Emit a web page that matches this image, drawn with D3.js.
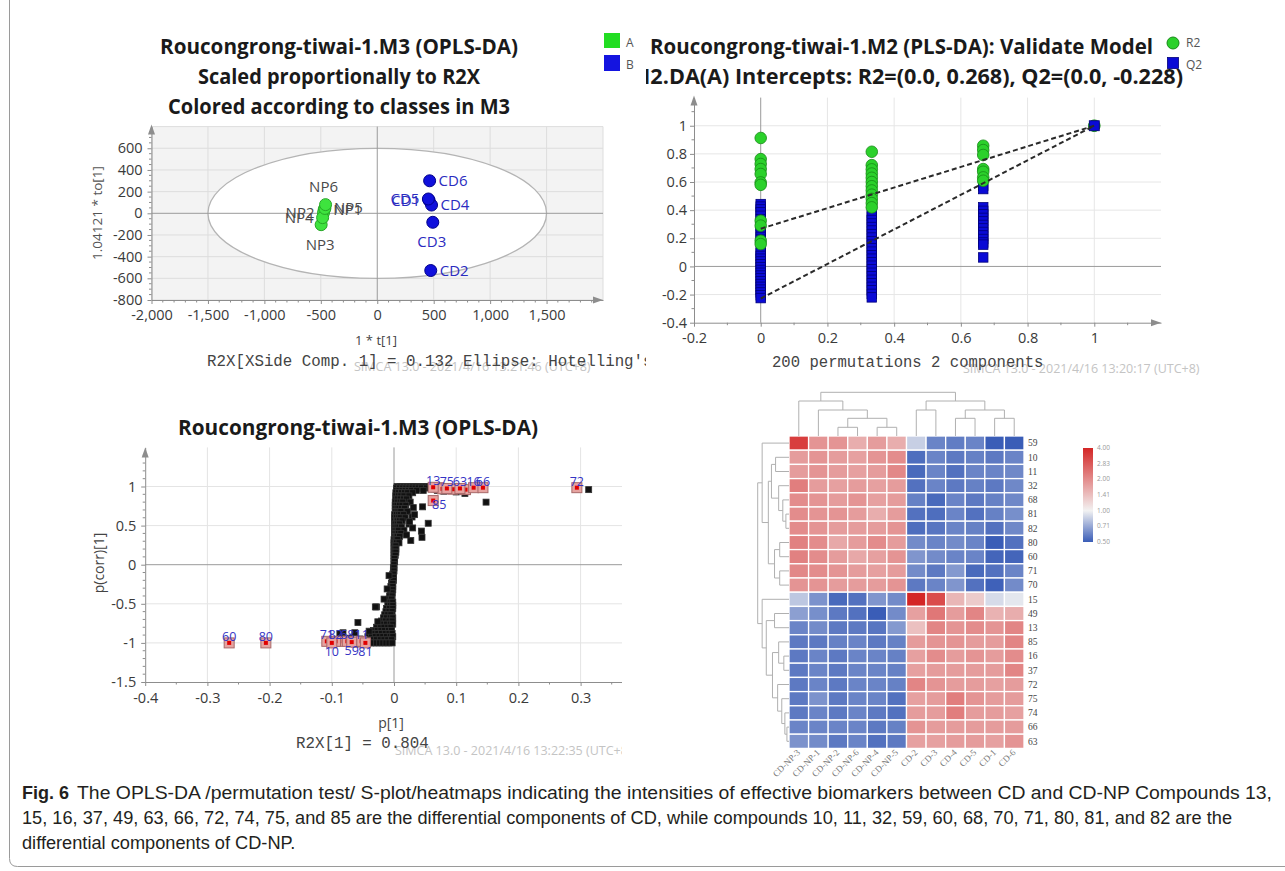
<!DOCTYPE html>
<html><head><meta charset="utf-8">
<script src="https://cdn.jsdelivr.net/npm/d3@7"></script>
<style>body{margin:0;background:#fff;}svg{display:block;}</style>
</head><body>
<svg id="fig" width="1285" height="871"></svg>
<script>
// ---------------- DATA ----------------
// Panel A: OPLS-DA score plot
const scoreNames = ["NP1","NP2","NP3","NP4","NP5","NP6","CD1","CD2","CD3","CD4","CD5","CD6"];
const scoreClass = ["A","A","A","A","A","A","B","B","B","B","B","B"];
const scoreT = [-470,-476,-497,-484,-464,-458, 460,474,492,481,453,464];
const scoreTo = [35,5,-105,-40,45,80, 118,-528,-83,76,132,300];
const scoreLabelSide = ["right","left","bottom","left","right","top","left","right","bottom","right","left","right"];
const ellipseT2 = [1500, 600];
const p1XTicks = [-2000,-1500,-1000,-500,0,500,1000,1500];
const p1YTicks = [-800,-600,-400,-200,0,200,400,600];

// Panel B: permutation test
const permX = [0, 0.333, 0.667];
const r2Perm = [
  [0.913,0.763,0.728,0.692,0.657,0.597,0.58,0.325,0.29,0.183,0.159],
  [0.815,0.72,0.69,0.66,0.63,0.6,0.57,0.54,0.51,0.48,0.45,0.42],
  [0.858,0.827,0.792,0.692,0.673,0.633,0.609]
];
const q2Perm = [
  [0.443,0.425,0.405,0.385,0.36,0.335,0.31,0.285,0.26,0.235,0.21,0.19,0.112,0.095,0.075,0.055,0.035,0.015,-0.005,-0.025,-0.045,-0.065,-0.085,-0.105,-0.125,-0.145,-0.165,-0.185,-0.205,-0.225],
  [0.38,0.355,0.33,0.305,0.28,0.255,0.23,0.205,0.18,0.155,0.13,0.105,0.08,0.055,0.03,0.005,-0.02,-0.045,-0.07,-0.095,-0.12,-0.145,-0.17,-0.195,-0.22],
  [0.574,0.55,0.42,0.395,0.37,0.345,0.32,0.295,0.27,0.245,0.22,0.195,0.17,0.155,0.064]
];
const r2Original = 1.0, q2Original = 1.0;
const r2Intercept = 0.268, q2Intercept = -0.228;
const p2XTicks = [-0.2,0,0.2,0.4,0.6,0.8,1];
const p2YTicks = [-0.4,-0.2,0,0.2,0.4,0.6,0.8,1];

// Panel C: S-plot  [p[1], p(corr)[1]]
const sPlotPoints = [
[0.005,1],[0.01,1],[0.015,1],[0.02,1],[0.025,1],[0.03,1],[0.035,1],[0.04,1],[0.045,1],[0.05,1],[0.055,1],
[0.004,0.98],[0.009,0.98],[0.014,0.98],[0.019,0.98],[0.024,0.98],[0.029,0.98],[0.034,0.98],[0.039,0.98],[0.044,0.98],[0.052,0.98],[0.06,0.98],
[0.004,0.95],[0.008,0.95],[0.013,0.95],[0.018,0.95],[0.023,0.95],[0.028,0.95],[0.036,0.95],[0.047,0.95],
[0.003,0.92],[0.007,0.92],[0.012,0.92],[0.017,0.92],[0.022,0.92],[0.03,0.92],
[0.003,0.88],[0.007,0.88],[0.011,0.88],[0.016,0.88],[0.024,0.88],
[0.003,0.84],[0.006,0.84],[0.01,0.84],[0.015,0.84],[0.02,0.84],
[0.002,0.8],[0.006,0.8],[0.01,0.8],[0.014,0.8],[0.026,0.8],
[0.002,0.76],[0.005,0.76],[0.009,0.76],[0.013,0.76],[0.019,0.76],
[0.002,0.72],[0.005,0.72],[0.008,0.72],[0.012,0.72],[0.017,0.72],
[0.002,0.68],[0.005,0.68],[0.008,0.68],[0.011,0.68],[0.022,0.68],
[0.001,0.64],[0.004,0.64],[0.007,0.64],[0.01,0.64],[0.015,0.64],
[0.001,0.6],[0.004,0.6],[0.007,0.6],[0.01,0.6],[0.018,0.6],
[0.001,0.56],[0.004,0.56],[0.006,0.56],[0.009,0.56],[0.013,0.56],
[0.001,0.52],[0.003,0.52],[0.006,0.52],[0.009,0.52],[0.024,0.52],
[0.001,0.48],[0.003,0.48],[0.005,0.48],[0.008,0.48],[0.012,0.48],
[0.001,0.44],[0.003,0.44],[0.005,0.44],[0.007,0.44],[0.016,0.44],
[0.001,0.4],[0.003,0.4],[0.005,0.4],[0.007,0.4],[0.011,0.4],
[0.001,0.36],[0.002,0.36],[0.004,0.36],[0.006,0.36],[0.009,0.36],
[0,0.32],[0.002,0.32],[0.004,0.32],[0.006,0.32],
[0,0.28],[0.002,0.28],[0.004,0.28],[0.008,0.28],
[0,0.24],[0.002,0.24],[0.003,0.24],
[0,0.2],[0.001,0.2],[0.003,0.2],
[0,0.16],[0.001,0.16],[0.003,0.16],
[0,0.12],[0.001,0.12],[0.002,0.12],
[0,0.08],[0.001,0.08],[0,0.04],[0.001,0.04],[0,0],
[0.031,0.73],[0.046,0.74],[0.029,0.61],[0.033,0.64],[0.055,0.53],[0.044,0.43],[0.045,0.35],[0.027,0.31],
[0.02,0.38],[0.025,0.55],[0.03,0.47],[0.1,0.93],[0.114,0.91],[0.117,0.94],[0.148,0.8],[0.07,0.95],
[0.08,0.94],[0.09,0.96],[0.065,0.97],[0.313,0.96],
[-0.001,-0.04],[0,-0.04],[-0.001,-0.08],[0,-0.08],[-0.002,-0.12],[-0.001,-0.12],
[-0.003,-0.16],[-0.001,-0.16],[-0.003,-0.2],[-0.001,-0.2],[-0.004,-0.24],[-0.002,-0.24],
[-0.005,-0.28],[-0.002,-0.28],[-0.005,-0.32],[-0.002,-0.32],[-0.006,-0.36],[-0.003,-0.36],
[-0.007,-0.4],[-0.003,-0.4],[-0.008,-0.44],[-0.004,-0.44],
[-0.009,-0.48],[-0.005,-0.48],[-0.002,-0.48],[-0.01,-0.52],[-0.006,-0.52],[-0.002,-0.52],
[-0.012,-0.56],[-0.007,-0.56],[-0.002,-0.56],[-0.013,-0.6],[-0.008,-0.6],[-0.003,-0.6],
[-0.015,-0.64],[-0.01,-0.64],[-0.005,-0.64],
[-0.017,-0.68],[-0.012,-0.68],[-0.006,-0.68],[-0.002,-0.68],
[-0.02,-0.72],[-0.014,-0.72],[-0.008,-0.72],[-0.003,-0.72],
[-0.024,-0.76],[-0.018,-0.76],[-0.012,-0.76],[-0.006,-0.76],[-0.002,-0.76],
[-0.028,-0.8],[-0.022,-0.8],[-0.016,-0.8],[-0.01,-0.8],[-0.005,-0.8],
[-0.033,-0.84],[-0.027,-0.84],[-0.021,-0.84],[-0.015,-0.84],[-0.009,-0.84],[-0.004,-0.84],
[-0.038,-0.88],[-0.032,-0.88],[-0.026,-0.88],[-0.02,-0.88],[-0.014,-0.88],[-0.008,-0.88],[-0.003,-0.88],
[-0.042,-0.92],[-0.036,-0.92],[-0.03,-0.92],[-0.024,-0.92],[-0.018,-0.92],[-0.012,-0.92],[-0.006,-0.92],[-0.002,-0.92],
[-0.046,-0.96],[-0.04,-0.96],[-0.034,-0.96],[-0.028,-0.96],[-0.022,-0.96],[-0.016,-0.96],[-0.01,-0.96],[-0.004,-0.96],
[-0.048,-1],[-0.043,-1],[-0.038,-1],[-0.033,-1],[-0.028,-1],[-0.023,-1],[-0.018,-1],[-0.013,-1],[-0.008,-1],[-0.003,-1],
[-0.028,-0.54],[-0.016,-0.44],[-0.011,-0.31],[-0.008,-0.14],[-0.058,-0.74],[-0.026,-0.73],[-0.04,-0.85],
[-0.063,-0.87],[-0.082,-0.87],[-0.03,-0.54],[-0.087,-0.88],[-0.055,-0.95],[-0.07,-0.94]
];
// marked (selected) variables
const markId   = ["70","32","37","74","49","15","60","80","71","82","68","11","10","59","81","13","75","63","16","66","72","85"];
const markP    = [-0.088,-0.06,0.072,0.078,0.095,0.115,-0.265,-0.206,-0.108,-0.094,-0.075,-0.052,-0.1,-0.068,-0.046,0.063,0.085,0.106,0.128,0.143,0.294,0.063];
const markCorr = [-0.98,-0.99,0.985,0.97,0.965,0.96,-1,-1,-0.98,-0.98,-0.98,-0.98,-1,-0.99,-1,0.99,0.975,0.975,0.985,0.985,0.985,0.82];
const markLabelPos = ["","","","","","","above","above","above","above","above","above","below","below","below","above","above","above","above","above","above","belowright"];
const p3XTicks = [-0.4,-0.3,-0.2,-0.1,0,0.1,0.2,0.3];
const p3YTicks = [-1.5,-1,-0.5,0,0.5,1];

// Panel D: heatmap (relative intensity)
const hmCols = ["CD-NP-3","CD-NP-1","CD-NP-2","CD-NP-6","CD-NP-4","CD-NP-5","CD-2","CD-3","CD-4","CD-5","CD-1","CD-6"];
const hmRows = ["59","10","11","32","68","81","82","80","60","71","70","15","49","13","85","16","37","72","75","74","66","63"];
const hmValues = [
 [3.4,1.9,1.9,1.6,1.8,1.6, 0.85,0.6,0.58,0.6,0.5,0.49],
 [1.8,1.9,1.8,1.75,1.9,2.0, 0.54,0.6,0.57,0.59,0.57,0.6],
 [1.8,1.9,1.8,1.75,1.8,2.05, 0.53,0.6,0.55,0.6,0.6,0.61],
 [2.2,1.8,1.75,1.8,1.75,1.8, 0.55,0.6,0.57,0.59,0.57,0.61],
 [2.0,1.9,1.8,1.9,1.75,1.8, 0.59,0.53,0.6,0.57,0.59,0.61],
 [2.0,1.9,1.9,1.8,1.6,1.8, 0.55,0.54,0.6,0.55,0.59,0.63],
 [2.0,1.9,1.8,1.8,1.8,1.9, 0.54,0.56,0.6,0.59,0.55,0.61],
 [2.15,2.0,1.65,1.8,2.0,1.8, 0.62,0.6,0.62,0.6,0.5,0.55],
 [2.15,2.0,1.8,1.65,1.75,1.9, 0.65,0.62,0.6,0.6,0.52,0.52],
 [2.05,2.0,1.9,1.8,1.75,1.8, 0.62,0.57,0.66,0.53,0.55,0.6],
 [1.9,1.9,1.8,1.8,1.8,1.9, 0.57,0.6,0.65,0.55,0.51,0.62],
 [0.82,0.64,0.53,0.55,0.65,0.62, 4.0,3.1,1.5,1.3,0.9,0.95],
 [0.68,0.63,0.57,0.55,0.5,0.62, 1.75,2.3,1.8,2.1,1.55,1.6],
 [0.6,0.62,0.57,0.57,0.56,0.66, 1.4,2.1,1.9,2.0,1.9,2.1],
 [0.57,0.57,0.59,0.6,0.57,0.59, 1.8,1.9,1.9,1.8,1.8,2.1],
 [0.57,0.6,0.57,0.6,0.6,0.59, 1.75,2.0,1.8,1.9,1.8,2.0],
 [0.57,0.6,0.57,0.6,0.6,0.59, 1.75,1.8,1.8,1.8,1.8,2.1],
 [0.57,0.6,0.57,0.6,0.6,0.59, 2.1,1.9,1.8,1.8,1.75,1.8],
 [0.57,0.64,0.57,0.6,0.6,0.55, 1.75,1.8,2.2,1.9,1.8,1.8],
 [0.57,0.6,0.57,0.6,0.57,0.55, 1.8,1.8,2.2,1.8,1.8,1.75],
 [0.6,0.6,0.6,0.6,0.57,0.59, 1.9,1.8,1.8,1.8,1.8,1.8],
 [0.64,0.62,0.57,0.6,0.55,0.57, 1.75,1.75,1.8,1.8,1.75,1.9]
];
const hmLegendTicks = [4.00,2.83,2.00,1.41,1.00,0.71,0.50];
// dendrograms: [height, left, right]
const colTree = [43.7, [35,"CD-NP-3",[26,"CD-NP-1",[17.7,[8.7,"CD-NP-2","CD-NP-6"],[8.7,"CD-NP-4","CD-NP-5"]]]],
                       [35,[26,"CD-2","CD-3"],[26,[17.7,"CD-4","CD-5"],[17.7,"CD-1","CD-6"]]]];
const rowTree = [30.3,
  [26,"59",[20,[17,[13,"10","11"],[10,"32",[6,"68",[3,"81","82"]]]],[14,[9,"80","60"],[9,"71","70"]]]],
  [26,"15",[22,[14,"49","13"],[16,[10,"85",[5,"16","37"]],[11,"72",[7,"75",[4,"74",[2,"66","63"]]]]]]]];

const captionLines = [
 "The OPLS-DA /permutation test/ S-plot/heatmaps indicating the intensities of effective biomarkers between CD and CD-NP Compounds 13,",
 "15, 16, 37, 49, 63, 66, 72, 74, 75, and 85 are the differential components of CD, while compounds 10, 11, 32, 59, 60, 68, 70, 71, 80, 81, and 82 are the",
 "differential components of CD-NP."
];

// ---------------- DRAWING ----------------
const SANS = "'Open Sans','Noto Sans','DejaVu Sans',sans-serif";
const MONO = "'Liberation Mono','DejaVu Sans Mono',monospace";
const SERIF = "'Liberation Serif','DejaVu Serif',serif";
const CAPF = "'Liberation Sans',Arial,sans-serif";
const AXIS = "#8d8d8d", TXT = "#3a3a3a";
const svg = d3.select("#fig");
const defs = svg.append("defs");
function clip(id,x,y,w,h){defs.append("clipPath").attr("id",id).append("rect").attr("x",x).attr("y",y).attr("width",w).attr("height",h);}
clip("c1",0,0,646,392); clip("c2",646,0,639,392); clip("c3",0,392,622,380);
svg.append("rect").attr("width",1285).attr("height",871).attr("fill","#fff");

function T(g,x,y,s,o={}){
  const t=g.append("text").attr("x",x).attr("y",y).text(s)
   .attr("font-family",o.ff||SANS).attr("font-size",o.fs||14).attr("fill",o.fill||TXT);
  if(o.fw) t.attr("font-weight",o.fw);
  if(o.anchor) t.attr("text-anchor",o.anchor);
  if(o.len) t.attr("textLength",o.len).attr("lengthAdjust","spacingAndGlyphs");
  if(o.rot) t.attr("transform",`rotate(${o.rot},${x},${y})`);
  return t;
}
function line(g,x1,y1,x2,y2,c,w){return g.append("line").attr("x1",x1).attr("y1",y1).attr("x2",x2).attr("y2",y2).attr("stroke",c).attr("stroke-width",w||1);}
function arrowUp(g,x,y){g.append("path").attr("d",`M${x},${y}L${x-3.5},${y+10}L${x+3.5},${y+10}Z`).attr("fill",AXIS);}
function arrowRight(g,x,y){g.append("path").attr("d",`M${x},${y}L${x-10},${y-3.5}L${x-10},${y+3.5}Z`).attr("fill",AXIS);}
function axisStyle(g,fs){
  g.attr("font-family",SANS).attr("font-size",fs).attr("color",AXIS);
  g.selectAll(".tick text").attr("fill",TXT);
}
const hy = d => String(d).replace("−","-");
const fmtK = d => d3.format(",")(d).replace("−","-");
const fmtD = d => String(+d.toFixed(2));
const TITLE = {fs:20.5,fw:700,fill:"#1a1a1a"};

// ===== Panel A =====
const g1 = svg.append("g").attr("clip-path","url(#c1)");
const x1 = d3.scaleLinear().domain([-2000,2000]).range([151.5,603]);
const y1 = d3.scaleLinear().domain([-800,800]).range([300,126.6]);
g1.append("rect").attr("x",x1(-2000)).attr("y",y1(800)).attr("width",x1(2000)-x1(-2000)).attr("height",y1(-800)-y1(800)).attr("fill","#f3f3f3");
x1.ticks(8).forEach(v=>{ if(v!==0) line(g1,x1(v),y1(-800),x1(v),y1(800),"#dddddd");});
y1.ticks(8).forEach(v=>{ if(v!==0) line(g1,x1(-2000),y1(v),x1(2000),y1(v),"#dddddd");});
g1.append("ellipse").attr("cx",x1(0)).attr("cy",y1(0))
  .attr("rx",x1(ellipseT2[0])-x1(0)).attr("ry",y1(0)-y1(ellipseT2[1]))
  .attr("fill","#fff").attr("stroke","#b4b4b4").attr("stroke-width",1.3);
line(g1,x1(-2000),y1(0),x1(2000),y1(0),"#9a9a9a");
line(g1,x1(0),y1(-800),x1(0),y1(800),"#9a9a9a");
g1.append("g").attr("transform",`translate(0,${y1(-800)})`)
  .call(d3.axisBottom(x1).tickValues(p1XTicks).tickFormat(fmtK).tickSize(4).tickSizeOuter(0).tickPadding(6)).call(axisStyle,14.5);
g1.append("g").attr("transform",`translate(${x1(-2000)},0)`)
  .call(d3.axisLeft(y1).tickValues(p1YTicks).tickFormat(hy).tickSize(4).tickSizeOuter(0).tickPadding(5)).call(axisStyle,14.5);
d3.range(-2000,2000,100).forEach(v=>{ if(v%500) line(g1,x1(v),y1(-800),x1(v),y1(-800)+2.5,AXIS);});
d3.range(-800,800,50).forEach(v=>{ if(v%200) line(g1,x1(-2000)-2.5,y1(v),x1(-2000),y1(v),AXIS);});
arrowRight(g1,x1(2000),y1(-800)); arrowUp(g1,x1(-2000),y1(800)-2);
scoreT.forEach((t,i)=>{
  const A = scoreClass[i]==="A";
  g1.append("circle").attr("cx",x1(t)).attr("cy",y1(scoreTo[i])).attr("r",6)
   .attr("fill",A?"#3ee33e":"#1010dc").attr("stroke",A?"#25a525":"#00008a").attr("stroke-width",1);
});
scoreT.forEach((t,i)=>{
  const A = scoreClass[i]==="A", cx=x1(t), cy=y1(scoreTo[i]), side=scoreLabelSide[i];
  const o={fs:15,fill:A?"#4a4a4a":"#2b2bc0"};
  if(side==="right") T(g1,cx+9,cy+5,scoreNames[i],o);
  else if(side==="left") T(g1,cx-9,cy+5,scoreNames[i],{...o,anchor:"end"});
  else if(side==="top") T(g1,cx-2,cy-13,scoreNames[i],{...o,anchor:"middle"});
  else T(g1,cx-1,cy+25,scoreNames[i],{...o,anchor:"middle"});
});
T(g1,339,54,"Roucongrong-tiwai-1.M3 (OPLS-DA)",{...TITLE,anchor:"middle",len:358});
T(g1,339,84,"Scaled proportionally to R2X",{...TITLE,anchor:"middle",len:282});
T(g1,339,114,"Colored according to classes in M3",{...TITLE,anchor:"middle",len:342});
T(g1,102,213,"1.04121 * to[1]",{fs:13.5,anchor:"middle",rot:-90,fill:"#555"});
T(g1,376,345,"1 * t[1]",{fs:13,anchor:"middle",fill:"#444"});
T(g1,354,371,"SIMCA 13.0 - 2021/4/16 13:21:46 (UTC+8)",{fs:12.5,fill:"#c4c4c4"});
T(g1,207,366,"R2X[XSide Comp. 1] = 0.132  Ellipse: Hotelling's T2 (95%)",{ff:MONO,fs:15.8,fill:"#444"});
g1.append("rect").attr("x",604).attr("y",33).attr("width",16).attr("height",15).attr("fill","#22dd22");
g1.append("rect").attr("x",604).attr("y",55).attr("width",16).attr("height",16).attr("fill","#1414e0");
T(g1,626,47,"A",{fs:12,fill:"#555"});
T(g1,626,69,"B",{fs:12,fill:"#555"});

// ===== Panel B =====
const g2 = svg.append("g").attr("clip-path","url(#c2)");
const x2 = d3.scaleLinear().domain([-0.2,1.2]).range([694,1161]);
const y2 = d3.scaleLinear().domain([-0.4,1.2]).range([322.7,97.6]);
[0.2,0.4,0.6,0.8,1.0].forEach(v=>line(g2,x2(v),y2(-0.4),x2(v),y2(1.2),"#e6e6e6"));
[-0.2,0.2,0.4,0.6,0.8,1.0].forEach(v=>line(g2,x2(-0.2),y2(v),x2(1.2),y2(v),"#e6e6e6"));
line(g2,x2(-0.2),y2(0),x2(1.2),y2(0),"#9a9a9a");
line(g2,x2(0),y2(-0.4),x2(0),y2(1.2),"#9a9a9a");
g2.append("g").attr("transform",`translate(0,${y2(-0.4)})`)
  .call(d3.axisBottom(x2).tickValues(p2XTicks).tickFormat(fmtD).tickSize(4).tickSizeOuter(0).tickPadding(6)).call(axisStyle,14.5);
g2.append("g").attr("transform",`translate(${x2(-0.2)},0)`)
  .call(d3.axisLeft(y2).tickValues(p2YTicks).tickFormat(fmtD).tickSize(4).tickSizeOuter(0).tickPadding(3)).call(axisStyle,14.5);
[-0.1,0.1,0.3,0.5,0.7,0.9,1.1].forEach(v=>line(g2,x2(v),y2(-0.4),x2(v),y2(-0.4)+2.5,AXIS));
[-0.3,-0.1,0.1,0.3,0.5,0.7,0.9,1.1].forEach(v=>line(g2,x2(-0.2)-2.5,y2(v),x2(-0.2),y2(v),AXIS));
arrowRight(g2,x2(1.2),y2(-0.4)); arrowUp(g2,x2(-0.2),y2(1.2)-2);
function sq(g,cx,cy,s,fill,stroke){g.append("rect").attr("x",cx-s/2).attr("y",cy-s/2).attr("width",s).attr("height",s).attr("fill",fill).attr("stroke",stroke).attr("stroke-width",0.8);}
permX.forEach((px,k)=>q2Perm[k].forEach(v=>sq(g2,x2(px),y2(v),9.5,"#0a0ad6","#00007a")));
permX.forEach((px,k)=>r2Perm[k].forEach(v=>g2.append("circle").attr("cx",x2(px)).attr("cy",y2(v)).attr("r",5.8).attr("fill","#2bd12b").attr("stroke","#168a16").attr("stroke-width",0.8)));
g2.append("circle").attr("cx",x2(1)).attr("cy",y2(r2Original)).attr("r",5.8).attr("fill","#2bd12b").attr("stroke","#168a16");
sq(g2,x2(1),y2(q2Original),10,"#0a0ad6","#00007a");
g2.append("line").attr("x1",x2(0)).attr("y1",y2(r2Intercept)).attr("x2",x2(1)).attr("y2",y2(r2Original)).attr("stroke","#2a2a2a").attr("stroke-width",2).attr("stroke-dasharray","5,3");
g2.append("line").attr("x1",x2(0)).attr("y1",y2(q2Intercept)).attr("x2",x2(1)).attr("y2",y2(q2Original)).attr("stroke","#2a2a2a").attr("stroke-width",2).attr("stroke-dasharray","5,3");
T(g2,650,54,"Roucongrong-tiwai-1.M2 (PLS-DA): Validate Model",{...TITLE,len:503});
T(g2,630,84,`M2.DA(A) Intercepts: R2=(0.0, ${r2Intercept}), Q2=(0.0, ${q2Intercept})`,{...TITLE,len:553});
g2.append("circle").attr("cx",1173).attr("cy",43).attr("r",6).attr("fill","#2bd12b").attr("stroke","#168a16");
sq(g2,1173,63,11,"#0a0ad6","#00007a");
T(g2,1186,47,"R2",{fs:12,fill:"#555"});
T(g2,1186,69,"Q2",{fs:12,fill:"#555"});
T(g2,963,373,"SIMCA 13.0 - 2021/4/16 13:20:17 (UTC+8)",{fs:12.5,fill:"#c4c4c4"});
T(g2,772,367,"200 permutations 2 components",{ff:MONO,fs:15.6,fill:"#444"});

// ===== Panel C =====
const g3 = svg.append("g").attr("clip-path","url(#c3)");
const x3 = d3.scaleLinear().domain([-0.4,0.4]).range([145.2,642.8]);
const y3 = d3.scaleLinear().domain([-1.5,1.5]).range([682,447.4]);
[-0.3,-0.2,-0.1,0.1,0.2,0.3,0.4].forEach(v=>line(g3,x3(v),y3(-1.5),x3(v),y3(1.5),"#e4e4e4"));
[-1,-0.5,0.5,1].forEach(v=>line(g3,x3(-0.4),y3(v),x3(0.4),y3(v),"#e4e4e4"));
line(g3,x3(-0.4),y3(0),x3(0.4),y3(0),"#9a9a9a");
line(g3,x3(0),y3(-1.5),x3(0),y3(1.5),"#9a9a9a");
g3.append("g").attr("transform",`translate(0,${y3(-1.5)})`)
  .call(d3.axisBottom(x3).tickValues(p3XTicks).tickFormat(fmtD).tickSize(4).tickSizeOuter(0).tickPadding(7)).call(axisStyle,14.5);
g3.append("g").attr("transform",`translate(${x3(-0.4)},0)`)
  .call(d3.axisLeft(y3).tickValues(p3YTicks).tickFormat(fmtD).tickSize(4).tickSizeOuter(0).tickPadding(5)).call(axisStyle,14.5);
d3.range(-0.35,0.4,0.1).forEach(v=>line(g3,x3(v),y3(-1.5),x3(v),y3(-1.5)+2.5,AXIS));
d3.range(-1.4,1.5,0.1).forEach(v=>{ if(Math.abs(v*2-Math.round(v*2))>0.01) line(g3,x3(-0.4)-2.5,y3(v),x3(-0.4),y3(v),AXIS);});
arrowUp(g3,x3(-0.4),y3(1.5));
sPlotPoints.forEach(d=>sq(g3,x3(d[0]),y3(d[1]),6,"#111","#333"));
markP.forEach((p,i)=>{
  const cx=x3(p), cy=y3(markCorr[i]);
  g3.append("rect").attr("x",cx-5).attr("y",cy-5).attr("width",10).attr("height",10).attr("fill","#e6a3a0").attr("stroke","#a86a6a").attr("stroke-width",1);
  g3.append("rect").attr("x",cx-2).attr("y",cy-2).attr("width",4).attr("height",4).attr("fill","#e00000");
});
markP.forEach((p,i)=>{
  const cx=x3(p), cy=y3(markCorr[i]), pos=markLabelPos[i];
  const o={fs:12.5,fill:"#3434c4",anchor:"middle"};
  if(pos==="above") T(g3,cx,cy-2,markId[i],o);
  else if(pos==="below") T(g3,cx,cy+13,markId[i],o);
  else if(pos==="belowright") T(g3,cx+6,cy+8,markId[i],o);
});
T(g3,358,435,"Roucongrong-tiwai-1.M3 (OPLS-DA)",{...TITLE,anchor:"middle",len:360});
T(g3,104,563,"p(corr)[1]",{fs:14,anchor:"middle",rot:-90,fill:"#444"});
T(g3,391,728,"p[1]",{fs:14,anchor:"middle",fill:"#444"});
T(g3,395,755,"SIMCA 13.0 - 2021/4/16 13:22:35 (UTC+8)",{fs:12.5,fill:"#c4c4c4"});
T(g3,296,748,"R2X[1] = 0.804",{ff:MONO,fs:15.8,fill:"#444"});

// ===== Panel D: heatmap =====
const g4 = svg.append("g");
const xH = d3.scaleBand().domain(hmCols).range([789,1024]);
const yH = d3.scaleBand().domain(hmRows).range([436,748.4]);
const cScale = d3.scaleLinear().domain([-1,0,2]).range(["#3a5db7","#f2f2f2","#d42626"]).clamp(true);
hmRows.forEach((r,i)=>hmCols.forEach((c,j)=>{
  g4.append("rect").attr("x",xH(c)).attr("y",yH(r)).attr("width",xH.bandwidth()).attr("height",yH.bandwidth())
    .attr("fill",cScale(Math.log2(hmValues[i][j]))).attr("stroke","#fff").attr("stroke-width",1.3);
}));
hmRows.forEach(r=>T(g4,1028,yH(r)+yH.bandwidth()/2+3.3,r,{ff:SERIF,fs:9.5,fill:"#444"}));
hmCols.forEach(c=>{const cx=xH(c)+xH.bandwidth()/2+2;
  T(g4,cx,753,c,{ff:SERIF,fs:9,fill:"#777",anchor:"end",rot:-45});});
const colH = d3.scaleLinear().domain([0,43.7]).range([436,392.3]);
const rowH = d3.scaleLinear().domain([0,30.3]).range([789,757.7]);
function tree(node, leafPos, hs, horiz){
  if(typeof node==="string") return {pos:leafPos(node), h:0};
  const A=tree(node[1],leafPos,hs,horiz), B=tree(node[2],leafPos,hs,horiz), h=node[0];
  if(!horiz){
    line(g4,A.pos,hs(A.h),A.pos,hs(h),"#b0b0b0"); line(g4,B.pos,hs(B.h),B.pos,hs(h),"#b0b0b0");
    line(g4,A.pos,hs(h),B.pos,hs(h),"#b0b0b0");
  } else {
    line(g4,hs(A.h),A.pos,hs(h),A.pos,"#b0b0b0"); line(g4,hs(B.h),B.pos,hs(h),B.pos,"#b0b0b0");
    line(g4,hs(h),A.pos,hs(h),B.pos,"#b0b0b0");
  }
  return {pos:(A.pos+B.pos)/2, h};
}
tree(colTree, c=>xH(c)+xH.bandwidth()/2, colH, false);
tree(rowTree, r=>yH(r)+yH.bandwidth()/2, rowH, true);
const lg = defs.append("linearGradient").attr("id","lgH").attr("x1",0).attr("y1",0).attr("x2",0).attr("y2",1);
const lScale = d3.scaleLog().base(2).domain([4,0.5]).range([448,542]);
hmLegendTicks.forEach(v=>lg.append("stop").attr("offset",(lScale(v)-448)/94).attr("stop-color",cScale(Math.log2(v))));
g4.append("rect").attr("x",1083).attr("y",448).attr("width",10).attr("height",94).attr("fill","url(#lgH)");
hmLegendTicks.forEach(v=>T(g4,1097,lScale(v)+2,v.toFixed(2),{fs:6.5,fill:"#999"}));

// ===== Frame & caption =====
svg.append("path").attr("d","M9.5,0V858.5Q9.5,866.5 17.5,866.5H1285").attr("fill","none").attr("stroke","#9a9a9a").attr("stroke-width",1);
const cap = svg.append("g");
T(cap,22,799,"Fig. 6",{ff:CAPF,fs:17.5,fw:700,fill:"#231f20",len:47});
const l1 = T(cap,77,799,captionLines[0],{ff:CAPF,fs:17.5,fill:"#231f20"});
const l2 = T(cap,22,824,captionLines[1],{ff:CAPF,fs:17.5,fill:"#231f20"});
const l3 = T(cap,22,849,captionLines[2],{ff:CAPF,fs:17.5,fill:"#231f20"});
const f = 1210/l2.node().getComputedTextLength();
l1.attr("textLength",1195).attr("lengthAdjust","spacingAndGlyphs");
l2.attr("textLength",1210).attr("lengthAdjust","spacingAndGlyphs");
l3.attr("textLength",l3.node().getComputedTextLength()*f).attr("lengthAdjust","spacingAndGlyphs");
</script>
</body></html>
